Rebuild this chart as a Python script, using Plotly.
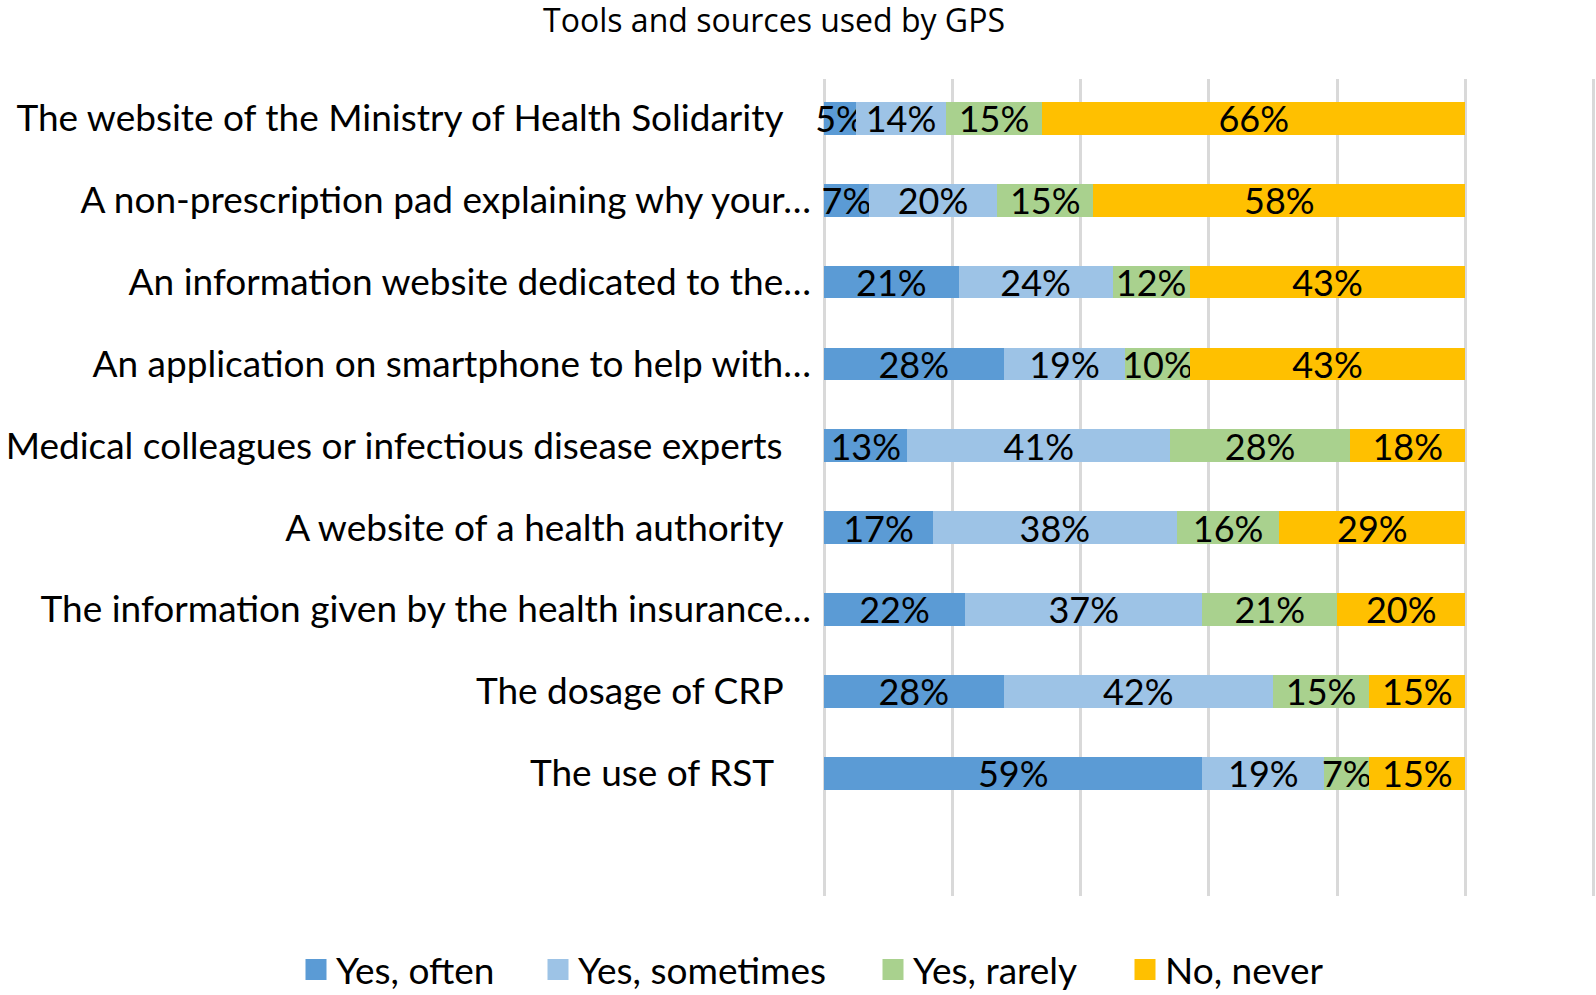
import plotly.graph_objects as go

categories = [
    "The website of the Ministry of Health Solidarity",
    "A non-prescription pad explaining why your…",
    "An information website dedicated to the…",
    "An application on smartphone to help with…",
    "Medical colleagues or infectious disease experts",
    "A website of a health authority",
    "The information given by the health insurance…",
    "The dosage of CRP",
    "The use of RST",
]
series_names = ["Yes, often", "Yes, sometimes", "Yes, rarely", "No, never"]
yes_often = [5, 7, 21, 28, 13, 17, 22, 28, 59]
yes_sometimes = [14, 20, 24, 19, 41, 38, 37, 42, 19]
yes_rarely = [15, 15, 12, 10, 28, 16, 21, 15, 7]
no_never = [66, 58, 43, 43, 18, 29, 20, 15, 15]
title_text = "Tools and sources used by GPS"

# style
colors = ["#5B9BD5", "#9DC3E6", "#A9D18E", "#FFC000"]
label_pad = [3, 0, 0, 0, 3, 3, 0, 3, 4]
FONT = "Lato"
FS_TICK = 37
FS_BAR = 36
W, H = 1596, 995
legend_text_x = [336, 578, 913, 1165]  # px where legend texts start

ticktext = [c + "\u00a0" * p for c, p in zip(categories, label_pad)]

fig = go.Figure()
legend_ids = ["legend", "legend2", "legend3", "legend4"]
for name, vals, col, lid in zip(series_names, [yes_often, yes_sometimes, yes_rarely, no_never], colors, legend_ids):
    fig.add_trace(go.Bar(
        y=categories, x=vals, name=name, orientation="h",
        marker=dict(color=col, line=dict(width=0)),
        text=[f"{v}%" for v in vals], texttemplate="%{text}",
        textposition="inside", insidetextanchor="middle", textangle=0,
        textfont=dict(family=FONT, size=FS_BAR, color="black"),
        cliponaxis=False, showlegend=False,
    ))
    # legend-only entry with a larger square key
    fig.add_trace(go.Scatter(
        x=[None], y=[None], mode="markers", name=name,
        marker=dict(symbol="square", size=16, color=col,
                    line=dict(width=5, color=col)),
        showlegend=True, legend=lid, hoverinfo="skip",
    ))

legend_layout = {}
for lid, tx in zip(legend_ids, legend_text_x):
    legend_layout[lid] = dict(
        orientation="h", xref="container", yref="container",
        x=(tx - 40) / W, xanchor="left", y=1 - 970 / H, yanchor="middle",
        font=dict(family=FONT, size=FS_TICK, color="black"),
        bgcolor="rgba(0,0,0,0)",
    )

fig.update_layout(
    barmode="stack", bargap=0.6,
    width=W, height=H,
    margin=dict(l=824, r=1, t=79, b=99),
    paper_bgcolor="white", plot_bgcolor="white",
    font=dict(family=FONT, size=FS_TICK, color="black"),
    uniformtext=dict(minsize=FS_BAR, mode="show"),
    title=dict(text=title_text, x=774 / W, xanchor="center", xref="container",
               y=1 - 21 / H, yanchor="middle", yref="container",
               font=dict(family="Open Sans", size=32, color="black")),
    showlegend=True,
    **legend_layout,
)
fig.update_xaxes(range=[0, 120.2], tickvals=[0, 20, 40, 60, 80, 100, 120],
                 showticklabels=False,
                 showgrid=True, gridcolor="#D9D9D9", gridwidth=2.5,
                 zeroline=True, zerolinecolor="#D9D9D9", zerolinewidth=2.5,
                 fixedrange=True)
fig.update_yaxes(categoryorder="array", categoryarray=categories,
                 tickvals=categories, ticktext=ticktext,
                 range=[9.5, -0.48], showgrid=False, zeroline=False,
                 ticks="", ticklabelstandoff=12, fixedrange=True)

# remove the page's default body margin so the figure fills the window exactly
fig.write_html("out.html",
               config={"displayModeBar": False},
               post_script="document.body.style.margin='0';document.body.style.overflow='hidden';")
